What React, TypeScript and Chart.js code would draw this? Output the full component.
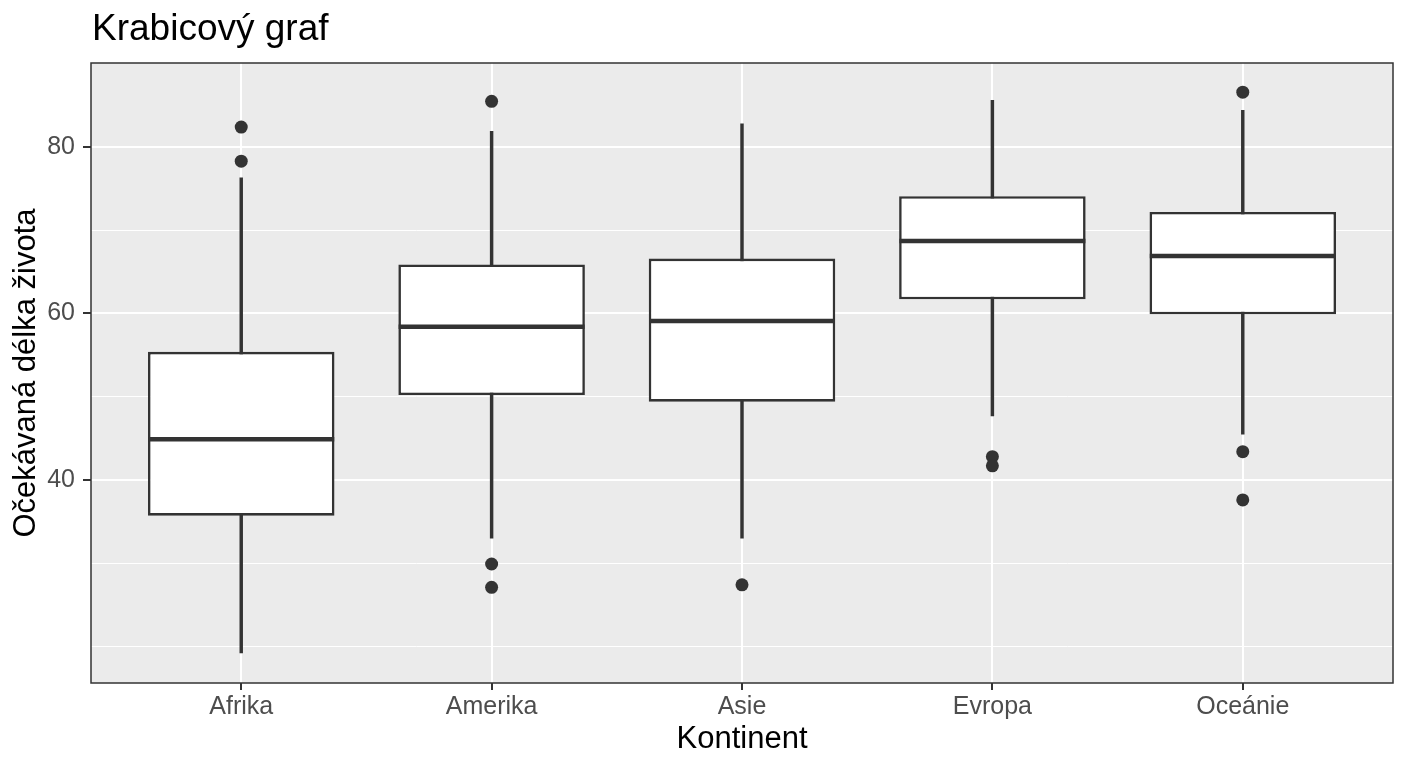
import React, { useEffect, useRef } from "react";
import { Chart, registerables } from "chart.js";

Chart.register(...registerables);

const chartTitle = "Krabicový graf";
const xTitle = "Kontinent";
const yTitle = "Očekávaná délka života";

const continents = ["Afrika", "Amerika", "Asie", "Evropa", "Oceánie"];
const whiskerLow = [19.2, 33.0, 33.0, 47.7, 45.5];
const q1 = [35.7, 50.2, 49.4, 61.7, 59.9];
const medians = [44.9, 58.4, 59.1, 68.7, 66.9];
const q3 = [55.4, 65.9, 66.6, 74.1, 72.2];
const whiskerHigh = [76.3, 81.9, 82.8, 85.6, 84.4];

const outliersAfrika = [82.4, 78.3];
const outliersAmerika = [85.5, 29.9, 27.1];
const outliersAsie = [27.4];
const outliersEvropa = [42.8, 41.7];
const outliersOceanie = [86.6, 43.4, 37.6];
const outlierGroups = [outliersAfrika, outliersAmerika, outliersAsie, outliersEvropa, outliersOceanie];

const yMajorTicks = [40, 60, 80];
const yMinorTicks = [20, 30, 50, 70];
const yMin = 15.6;
const yMax = 90.1;

const DARK = "#333333";
const FONT = "'Liberation Sans', Arial, sans-serif";

const panelPlugin = {
  id: "panelPlugin",
  beforeDraw(chart: any) {
    const { ctx, chartArea } = chart;
    ctx.save();
    ctx.fillStyle = "#EBEBEB";
    ctx.fillRect(chartArea.left, chartArea.top, chartArea.right - chartArea.left, chartArea.bottom - chartArea.top);
    ctx.restore();
  },
  afterDatasetsDraw(chart: any) {
    const { ctx, chartArea } = chart;
    ctx.save();
    ctx.strokeStyle = DARK;
    ctx.lineWidth = 1.5;
    ctx.strokeRect(chartArea.left, chartArea.top, chartArea.right - chartArea.left, chartArea.bottom - chartArea.top);
    ctx.restore();
  },
  afterDraw(chart: any) {
    const { ctx, chartArea } = chart;
    ctx.save();
    ctx.font = `37px ${FONT}`;
    ctx.fillStyle = "#000000";
    ctx.textBaseline = "alphabetic";
    ctx.textAlign = "left";
    ctx.fillText(chartTitle, chartArea.left + 1, 40);
    ctx.restore();
  },
};

export default function App() {
  const canvasRef = useRef<HTMLCanvasElement | null>(null);

  useEffect(() => {
    if (!canvasRef.current) return;
    const outlierPoints: { x: number; y: number }[] = [];
    outlierGroups.forEach((grp, i) => grp.forEach((v) => outlierPoints.push({ x: i + 1, y: v })));

    const chart = new Chart(canvasRef.current, {
      type: "bar",
      data: {
        datasets: [
          {
            type: "scatter",
            label: "outliers",
            data: outlierPoints,
            backgroundColor: DARK,
            borderColor: DARK,
            pointRadius: 6.5,
            pointBorderWidth: 0,
            order: 1,
          } as any,
          {
            type: "scatter",
            label: "median",
            data: medians.map((m, i) => ({ x: i + 1, y: m })),
            pointStyle: "line",
            pointRadius: 93,
            pointBorderWidth: 4.5,
            borderColor: DARK,
            backgroundColor: DARK,
            order: 2,
          } as any,
          {
            type: "bar",
            label: "box",
            data: q1.map((v, i) => ({ x: i + 1, y: [v, q3[i]] })),
            backgroundColor: "#FFFFFF",
            borderColor: DARK,
            borderWidth: 2.6,
            borderSkipped: false,
            grouped: false,
            categoryPercentage: 1,
            barPercentage: 0.745,
            order: 3,
          } as any,
          {
            type: "bar",
            label: "whisker",
            data: whiskerLow.map((v, i) => ({ x: i + 1, y: [v, whiskerHigh[i]] })),
            backgroundColor: DARK,
            borderWidth: 0,
            grouped: false,
            categoryPercentage: 1,
            barPercentage: 1,
            maxBarThickness: 2.8,
            order: 4,
          } as any,
        ],
      },
      options: {
        animation: false,
        responsive: false,
        events: [],
        layout: { autoPadding: false, padding: { top: 63, right: 15, left: 0, bottom: 0 } },
        plugins: {
          legend: { display: false },
          tooltip: { enabled: false },
          title: { display: false },
        },
        scales: {
          x: {
            type: "linear",
            min: 0.4,
            max: 5.6,
            offset: false,
            afterBuildTicks: (axis: any) => {
              axis.ticks = continents.map((_, i) => ({ value: i + 1 }));
            },
            afterFit: (axis: any) => {
              axis.height = 85;
            },
            grid: {
              offset: false,
              color: "#FFFFFF",
              lineWidth: 2,
              drawTicks: true,
              tickLength: 7,
              tickWidth: 2,
              tickColor: DARK,
            },
            border: { display: false },
            ticks: {
              autoSkip: false,
              maxRotation: 0,
              padding: 2,
              color: "#4D4D4D",
              font: { family: FONT, size: 25 },
              callback: (v: any) => continents[Math.round(Number(v)) - 1] ?? "",
            },
            title: {
              display: true,
              text: xTitle,
              color: "#000000",
              font: { family: FONT, size: 31, lineHeight: 1.86 },
              padding: { top: 0, bottom: 0 },
            },
          },
          y: {
            type: "linear",
            min: yMin,
            max: yMax,
            afterBuildTicks: (axis: any) => {
              axis.ticks = [...yMinorTicks, ...yMajorTicks].sort((a, b) => a - b).map((v) => ({ value: v }));
            },
            afterFit: (axis: any) => {
              axis.width = 91;
            },
            grid: {
              color: "#FFFFFF",
              lineWidth: (ctx: any) => (yMajorTicks.includes(ctx.tick?.value) ? 2 : 1),
              drawTicks: true,
              tickLength: 8,
              tickWidth: 2,
              tickColor: (ctx: any) => (yMajorTicks.includes(ctx.tick?.value) ? DARK : "rgba(0,0,0,0)"),
            },
            border: { display: false },
            ticks: {
              autoSkip: false,
              padding: 8,
              color: "#4D4D4D",
              font: { family: FONT, size: 25 },
              callback: (v: any) => (yMajorTicks.includes(Number(v)) ? String(v) : ""),
            },
            title: {
              display: true,
              text: yTitle,
              color: "#000000",
              font: { family: FONT, size: 31, lineHeight: 1.71 },
              padding: { top: 0, bottom: 0 },
            },
          },
        },
      } as any,
      plugins: [panelPlugin],
    });
    return () => chart.destroy();
  }, []);

  return (
    <div style={{ position: "fixed", left: 0, top: 0, width: 1408, height: 768, background: "#FFFFFF" }}>
      <canvas ref={canvasRef} width={1408} height={768} style={{ width: 1408, height: 768, display: "block" }} />
    </div>
  );
}
